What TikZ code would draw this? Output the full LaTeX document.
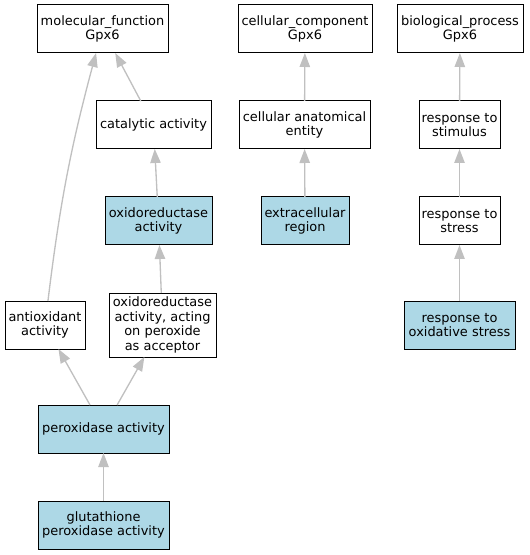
\documentclass[tikz,border=0pt]{standalone}
\usepackage{fontspec}
\setmainfont{DejaVu Sans}
\usetikzlibrary{arrows.meta}
\definecolor{hlblue}{HTML}{ADD8E6}
\definecolor{edgegray}{HTML}{C0C0C0}
\newcommand\bx[7]{\node[#6, minimum width={(#4-#2)*0.75pt}, minimum height={(#5-#3)*0.75pt}] (#1) at ({(#2+#4)/2},{(#3+#5)/2}) {#7};}
\begin{document}
\begin{tikzpicture}[x=0.75pt,y=-0.75pt,
  box/.style={draw=black, line width=0.75pt, fill=white, align=center, inner sep=0pt, outer sep=0pt, font=\fontsize{9.7pt}{11pt}\selectfont},
  hl/.style={box, fill=hlblue},
  edge/.style={draw=edgegray, line width=1pt, -{Triangle[length=10.5pt,width=7.8pt]}}]
\useasboundingbox (0,0) rectangle (529,555);
\bx{mf}{37}{5}{168}{53}{box}{molecular\_function\\Gpx6}
\bx{cat}{96}{101}{211}{149}{box}{catalytic activity}
\bx{oxr}{105}{197}{212}{245}{hl}{oxidoreductase\\activity}
\bx{cc}{238}{5}{372}{53}{box}{cellular\_component\\Gpx6}
\bx{cae}{239}{101}{370}{149}{box}{cellular anatomical\\entity}
\bx{ext}{261}{197}{349}{245}{hl}{extracellular\\region}
\bx{bp}{397}{5}{523}{53}{box}{biological\_process\\Gpx6}
\bx{rs}{419}{101}{500}{149}{box}{response to\\stimulus}
\bx{rst}{419}{197}{500}{245}{box}{response to\\stress}
\bx{ros}{404}{301}{515}{349}{hl}{response to\\oxidative stress}
\bx{anti}{5}{301}{85}{349}{box}{antioxidant\\activity}
\bx{acp}{109}{293}{216}{357}{box}{oxidoreductase\\activity, acting\\on peroxide\\as acceptor}
\bx{perox}{38}{405}{169}{453}{hl}{peroxidase activity}
\bx{glut}{38}{501}{169}{549}{hl}{glutathione\\peroxidase activity}
\draw[edge] (cat) -- (mf);
\draw[edge] (anti) to[bend left=4] (mf);
\draw[edge] (oxr) -- (cat);
\draw[edge] (acp) -- (oxr);
\draw[edge] (perox) -- (anti);
\draw[edge] (perox) -- (acp);
\draw[edge] (glut) -- (perox);
\draw[edge] (cae) -- (cc);
\draw[edge] (ext) -- (cae);
\draw[edge] (rs) -- (bp);
\draw[edge] (rst) -- (rs);
\draw[edge] (ros) -- (rst);
\end{tikzpicture}
\end{document}
